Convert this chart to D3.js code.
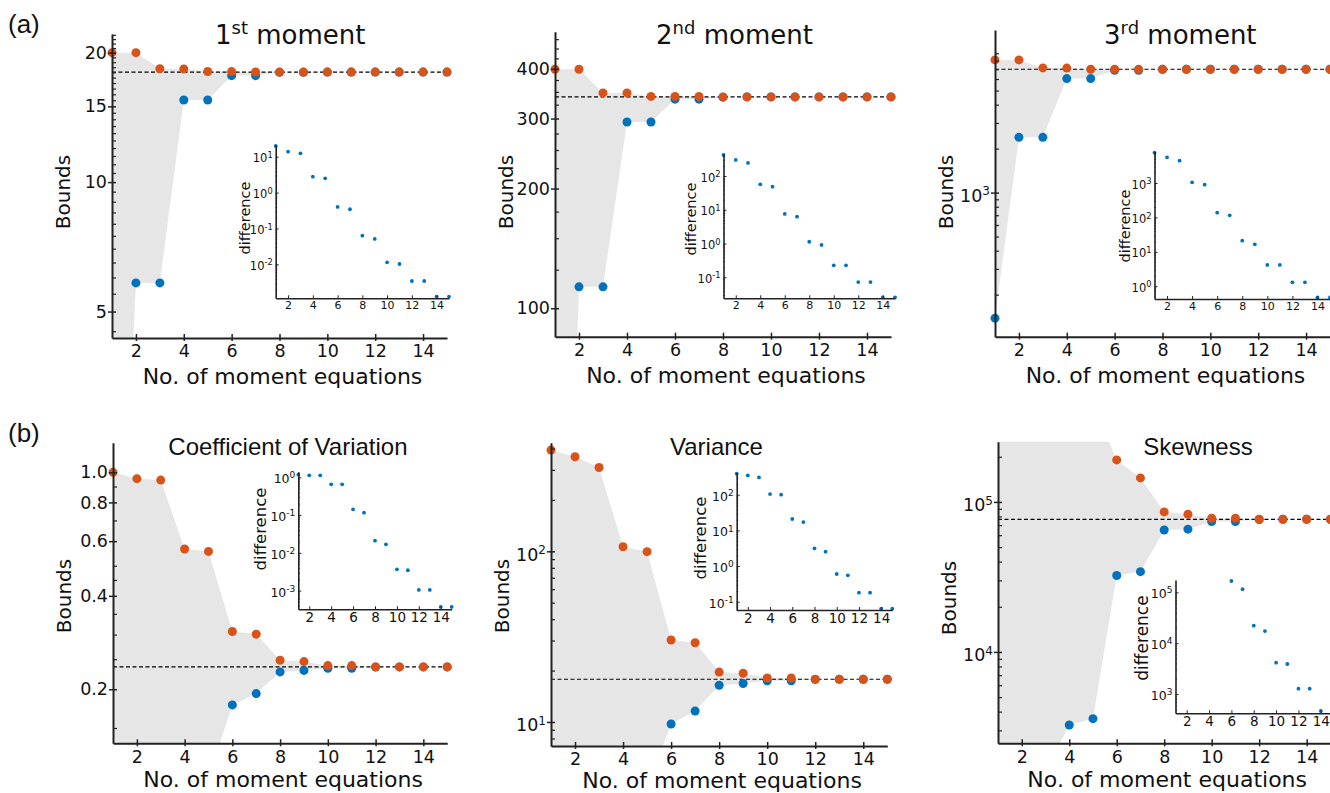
<!DOCTYPE html>
<html>
<head>
<meta charset="utf-8">
<script src="https://cdn.jsdelivr.net/npm/d3@7"></script>
<style>
  body { margin: 0; background: #fff; }
  svg { display: block; }
</style>
</head>
<body>
<svg id="fig" width="1330" height="793"></svg>
<script>
// x axis: number of moment equations
const steps = d3.range(1, 16)

// (a) 1st moment
const m1Upper = [20.0, 20.0, 18.35, 18.33, 18.08, 18.07, 18.03, 18.02, 18.02, 18.02, 18.02, 18.02, 18.02, 18.02, 18.02]
const m1Lower = [0.39, 5.83, 5.83, 15.52, 15.52, 17.68, 17.68, 18.0, 18.01, 18.02, 18.02, 18.02, 18.02, 18.02, 18.02]
const m1True = 18.02
const m1Diff = [19.9, 13.8, 12.4, 2.77, 2.5, 0.398, 0.343, 0.063, 0.051, 0.0114, 0.0102, 0.00343, 0.00343, 0.00126, 0.00126]

// (a) 2nd moment
const m2Upper = [399, 399, 348, 348, 341, 341, 341, 340, 340, 340, 340, 340, 340, 340, 340]
const m2Lower = [1.8, 113.2, 113.2, 294, 294, 335.6, 335.6, 339.5, 340, 340, 340, 340, 340, 340, 340]
const m2True = 340
const m2Diff = [419, 298, 243, 56.6, 48.3, 7.5, 6.25, 1.13, 0.906, 0.226, 0.226, 0.072, 0.072, 0.0255, 0.0255]

// (a) 3rd moment
const m3Upper = [8110, 8110, 7150, 7130, 7000, 7000, 7000, 7000, 7000, 7000, 7000, 7000, 7000, 7000, 7000]
const m3Lower = [138, 2390, 2390, 6040, 6040, 6890, 6890, 6990, 7000, 7000, 7000, 7000, 7000, 7000, 7000]
const m3True = 7000
const m3Diff = [7590, 5560, 4450, 1047, 895, 137, 115, 21.1, 16.5, 4.16, 4.16, 1.3, 1.3, 0.47, 0.47]

// (b) coefficient of variation
const cvUpper = [1.0, 0.954, 0.944, 0.566, 0.556, 0.307, 0.301, 0.248, 0.2455, 0.2384, 0.2384, 0.236, 0.236, 0.236, 0.236]
const cvLower = [0.01, 0.01, 0.01, 0.01, 0.104, 0.178, 0.1936, 0.2274, 0.230, 0.2337, 0.2337, 0.2358, 0.236, 0.236, 0.236]
const cvTrue = 0.236
const cvDiff = [1.17, 1.13, 1.13, 0.65, 0.65, 0.142, 0.116, 0.021, 0.0168, 0.00366, 0.00346, 0.00104, 0.00104, 0.00037, 0.00037]

// (b) variance
const varUpper = [392, 358, 310, 106.4, 99.5, 30.2, 29.1, 19.6, 19.3, 18.1, 18.1, 17.8, 17.8, 17.8, 17.8]
const varLower = [1, 1, 1, 1, 4.16, 9.73, 11.6, 16.4, 16.8, 17.45, 17.45, 17.75, 17.8, 17.8, 17.8]
const varTrue = 17.8
const varDiff = [388, 348, 306, 104, 100, 20.8, 17.1, 3.13, 2.52, 0.597, 0.547, 0.179, 0.179, 0.0637, 0.0637]

// (b) skewness
const skUpper = [2e6, 1.5e6, 1e6, 7e5, 4.5e5, 1.905e5, 1.445e5, 8.58e4, 8.28e4, 7.78e4, 7.78e4, 7.66e4, 7.66e4, 7.66e4, 7.66e4]
const skLower = [100, 300, 1600, 3260, 3590, 3.23e4, 3.43e4, 6.5e4, 6.58e4, 7.4e4, 7.4e4, 7.64e4, 7.66e4, 7.66e4, 7.66e4]
const skTrue = 7.66e4
const skDiff = [null, null, null, null, null, 1.67e5, 1.15e5, 2.21e4, 1.73e4, 4130, 3890, 1270, 1270, 463, 463]

const xTickValues = [2, 4, 6, 8, 10, 12, 14]

const upperColor = '#D95319'
const lowerColor = '#0072BD'
const bandColor = '#e6e6e6'
const axisColor = '#222'
const tickFont = 'DejaVu Sans'

const svg = d3.select('#fig')

//helper: minor ticks of a log axis
function logMinors(dom) {
  const out = []
  const k0 = Math.floor(Math.log10(dom[0])), k1 = Math.ceil(Math.log10(dom[1]))
  for (let k = k0; k <= k1; k++) {
    for (let m = 2; m <= 9; m++) {
      const v = m * Math.pow(10, k)
      if (v >= dom[0] && v <= dom[1]) out.push(v)
    }
  }
  return out
}

//helper: write "10^k" into an axis label
function powLabel(sel, supSize) {
  sel.each(function (d) {
    const t = d3.select(this)
    const k = Math.round(Math.log10(d))
    t.text('')
    t.append('tspan').text('10')
    t.append('tspan').attr('dy', '-0.55em').attr('font-size', supSize).text(k < 0 ? '-' + (-k) : k)
  })
}

function drawPanel(p) {
  const x = d3.scaleLinear().domain([1, 15]).range([p.left, p.right])
  const y = d3.scaleLog().domain(p.yDomain).range([p.bottom, p.top])

  const clipId = 'clip_' + p.name
  svg.append('clipPath').attr('id', clipId).append('rect')
    .attr('x', p.left).attr('y', p.top)
    .attr('width', p.right - p.left).attr('height', p.bottom - p.top)

  const g = svg.append('g')
  const band = steps.map((s, i) => ({s: s, lo: p.lower[i], hi: p.upper[i]}))

  //shaded region between the bounds
  g.append('path')
    .datum(band)
    .attr('clip-path', `url(#${clipId})`)
    .attr('fill', bandColor)
    .attr('d', d3.area().x(d => x(d.s)).y0(d => y(d.lo)).y1(d => y(d.hi)))

  //true value
  g.append('line')
    .attr('x1', p.left).attr('x2', p.right)
    .attr('y1', y(p.trueVal)).attr('y2', y(p.trueVal))
    .attr('stroke', '#000').attr('stroke-width', 1.2)
    .attr('stroke-dasharray', '4,2.5')

  const inside = v => v >= p.yDomain[0] && v <= p.yDomain[1]

  g.append('g').selectAll('circle')
    .data(band.filter(d => inside(d.lo)))
    .join('circle')
    .attr('cx', d => x(d.s)).attr('cy', d => y(d.lo)).attr('r', 4.5)
    .attr('fill', lowerColor)

  g.append('g').selectAll('circle')
    .data(band.filter(d => inside(d.hi)))
    .join('circle')
    .attr('cx', d => x(d.s)).attr('cy', d => y(d.hi)).attr('r', 4.5)
    .attr('fill', upperColor)

  //x axis
  const xa = g.append('g')
    .attr('transform', `translate(0,${p.bottom})`)
    .call(d3.axisBottom(x).tickValues(xTickValues).tickFormat(d3.format('d'))
      .tickSizeInner(-4).tickSizeOuter(0).tickPadding(7))
  xa.select('.domain').attr('stroke', axisColor).attr('stroke-width', 2)
  xa.selectAll('.tick line').attr('y1', 3).attr('stroke', axisColor).attr('stroke-width', 1.5)
  xa.selectAll('.tick text').attr('font-family', tickFont).attr('font-size', 17.5).attr('fill', '#111')

  //y minor ticks
  const ym = g.append('g')
    .attr('transform', `translate(${p.left},0)`)
    .call(d3.axisLeft(y).tickValues(p.minors).tickFormat('').tickSizeInner(-4).tickSizeOuter(0))
  ym.select('.domain').remove()
  ym.selectAll('.tick line').attr('stroke', axisColor).attr('stroke-width', 1.2)

  //y axis
  const ya = g.append('g')
    .attr('transform', `translate(${p.left},0)`)
    .call(d3.axisLeft(y).tickValues(p.majors).tickSizeInner(-4).tickSizeOuter(0).tickPadding(5)
      .tickFormat(p.fmt || (d => d)))
  ya.select('.domain').attr('stroke', axisColor).attr('stroke-width', 2)
  ya.selectAll('.tick line').attr('x1', -4).attr('stroke', axisColor).attr('stroke-width', 1.5)
  const yt = ya.selectAll('.tick text').attr('font-family', tickFont).attr('font-size', 17.5).attr('fill', '#111')
  if (p.pow) { powLabel(yt, 12); yt.attr('dy', '0.5em') }

  //labels
  svg.append('text')
    .attr('x', (p.left + p.right) / 2 + 3).attr('y', p.bottom + p.xLabelGap)
    .attr('text-anchor', 'middle')
    .attr('font-family', tickFont).attr('font-size', 22).attr('fill', '#111')
    .text('No. of moment equations')

  svg.append('text')
    .attr('transform', `translate(${p.left - 49},${p.labelY}) rotate(-90)`)
    .attr('text-anchor', 'middle').attr('dominant-baseline', 'central')
    .attr('font-family', tickFont).attr('font-size', 20).attr('fill', '#111')
    .text('Bounds')
}

function drawInset(p) {
  const x = d3.scaleLinear().domain([1, 15]).range([p.left, p.right])
  const y = d3.scaleLog().domain(p.yDomain).range([p.bottom, p.top])
  const g = svg.append('g')

  const pts = steps.map((s, i) => ({s: s, v: p.diff[i]})).filter(d => d.v !== null)
  g.append('g').selectAll('circle')
    .data(pts)
    .join('circle')
    .attr('cx', d => x(d.s)).attr('cy', d => y(d.v)).attr('r', 1.9)
    .attr('fill', lowerColor)

  const xa = g.append('g')
    .attr('transform', `translate(0,${p.bottom})`)
    .call(d3.axisBottom(x).tickValues(xTickValues).tickFormat(d3.format('d'))
      .tickSizeInner(-3).tickSizeOuter(0).tickPadding(3))
  xa.select('.domain').attr('stroke', axisColor).attr('stroke-width', 1.6)
  xa.selectAll('.tick line').attr('stroke', axisColor)
  xa.selectAll('.tick text').attr('font-family', tickFont).attr('font-size', p.xFont).attr('fill', '#111')

  const ym = g.append('g')
    .attr('transform', `translate(${p.left},0)`)
    .call(d3.axisLeft(y).tickValues(logMinors(p.yDomain)).tickFormat('').tickSizeInner(-1.5).tickSizeOuter(0))
  ym.select('.domain').remove()
  ym.selectAll('.tick line').attr('stroke', axisColor)

  const decades = d3.range(Math.ceil(Math.log10(p.yDomain[0])), Math.floor(Math.log10(p.yDomain[1])) + 1)
    .map(k => Math.pow(10, k))
  const ya = g.append('g')
    .attr('transform', `translate(${p.left},0)`)
    .call(d3.axisLeft(y).tickValues(decades).tickSizeInner(-3).tickSizeOuter(0).tickPadding(3))
  ya.select('.domain').attr('stroke', axisColor).attr('stroke-width', 1.6)
  ya.selectAll('.tick line').attr('stroke', axisColor)
  const yt = ya.selectAll('.tick text').attr('font-family', tickFont).attr('font-size', p.yFont).attr('fill', '#111')
  powLabel(yt, p.yFont * 0.72)
  yt.attr('dy', '0.45em')

  svg.append('text')
    .attr('transform', `translate(${p.left - p.labelGap},${p.labelY}) rotate(-90)`)
    .attr('text-anchor', 'middle').attr('dominant-baseline', 'central')
    .attr('font-family', tickFont).attr('font-size', p.labelFont).attr('fill', '#111')
    .text('difference')
}

function title(xPos, yPos, parts, font, size) {
  const t = svg.append('text').attr('x', xPos).attr('y', yPos)
    .attr('font-family', font).attr('font-size', size).attr('fill', '#111')
  t.append('tspan').text(parts[0])
  if (parts.length > 1) {
    t.append('tspan').attr('dy', -10).attr('font-size', 18).text(parts[1])
    t.append('tspan').attr('dy', 10).text(parts[2])
  }
}

// ---- row (a)
drawPanel({name: 'm1', left: 112, right: 447, top: 34, bottom: 338, yDomain: [4.34, 22.1],
  upper: m1Upper, lower: m1Lower, trueVal: m1True, labelY: 192, xLabelGap: 46,
  majors: [5, 10, 15, 20], minors: d3.range(4.5, 22.1, 0.5).filter(v => v % 5 !== 0)})
drawPanel({name: 'm2', left: 555, right: 891, top: 31.7, bottom: 336.7, yDomain: [84.8, 496],
  upper: m2Upper, lower: m2Lower, trueVal: m2True, labelY: 192, xLabelGap: 46,
  majors: [100, 200, 300, 400], minors: d3.range(100, 500, 25).filter(v => v % 100 !== 0)})
drawPanel({name: 'm3', left: 995, right: 1330, top: 30, bottom: 336.7, yDomain: [103, 13000],
  upper: m3Upper, lower: m3Lower, trueVal: m3True, labelY: 192, xLabelGap: 46,
  majors: [1000], minors: logMinors([103, 13000]), pow: true})

drawInset({left: 275.7, right: 449, top: 145, bottom: 298.3, yDomain: [Math.pow(10, -2.947), Math.pow(10, 1.326)],
  diff: m1Diff, xFont: 11, yFont: 11.5, labelFont: 14.5, labelGap: 31, labelY: 218})
drawInset({left: 723.5, right: 895, top: 154, bottom: 298.3, yDomain: [Math.pow(10, -1.622), Math.pow(10, 2.651)],
  diff: m2Diff, xFont: 11, yFont: 11.5, labelFont: 14.5, labelGap: 33, labelY: 219})
drawInset({left: 1154.5, right: 1330, top: 151.7, bottom: 299, yDomain: [Math.pow(10, -0.372), Math.pow(10, 3.91)],
  diff: m3Diff, xFont: 11, yFont: 11.5, labelFont: 14.5, labelGap: 30, labelY: 226})

// ---- row (b)
drawPanel({name: 'cv', left: 113, right: 447.2, top: 442.7, bottom: 743.3, yDomain: [0.1339, 1.246],
  upper: cvUpper, lower: cvLower, trueVal: cvTrue, labelY: 596, xLabelGap: 44,
  majors: [0.2, 0.4, 0.6, 0.8, 1.0], minors: [0.15, 0.25, 0.3, 0.35, 0.45, 0.5, 0.7, 0.9],
  fmt: d3.format('.1f')})
drawPanel({name: 'var', left: 551, right: 887.3, top: 442.7, bottom: 746, yDomain: [7.23, 433],
  upper: varUpper, lower: varLower, trueVal: varTrue, labelY: 596, xLabelGap: 42,
  majors: [10, 100], minors: logMinors([7.23, 433]), pow: true})
drawPanel({name: 'sk', left: 998, right: 1330.4, top: 441.7, bottom: 743.3, yDomain: [2460, 2.52e5],
  upper: skUpper, lower: skLower, trueVal: skTrue, labelY: 598, xLabelGap: 44,
  majors: [1e4, 1e5], minors: logMinors([2460, 2.52e5]), pow: true})

drawInset({left: 298.3, right: 451.7, top: 471.7, bottom: 609.3, yDomain: [Math.pow(10, -3.495), Math.pow(10, 0.148)],
  diff: cvDiff, xFont: 13.5, yFont: 12.5, labelFont: 16.5, labelGap: 38, labelY: 529})
drawInset({left: 736.7, right: 892.3, top: 472.7, bottom: 610, yDomain: [Math.pow(10, -1.233), Math.pow(10, 2.617)],
  diff: varDiff, xFont: 13.5, yFont: 12.5, labelFont: 16.5, labelGap: 36, labelY: 538})
drawInset({left: 1175.5, right: 1332, top: 580, bottom: 713.3, yDomain: [Math.pow(10, 2.62), Math.pow(10, 5.242)],
  diff: skDiff, xFont: 13.5, yFont: 12.5, labelFont: 17, labelGap: 34, labelY: 638})

// ---- titles
title(215, 44.3, ['1', 'st', ' moment'], tickFont, 26)
title(656, 44.3, ['2', 'nd', ' moment'], tickFont, 26)
title(1104, 44.3, ['3', 'rd', ' moment'], tickFont, 26)
title(168.3, 455, ['Coefficient of Variation'], 'Liberation Sans', 24)
title(670, 455, ['Variance'], 'Liberation Sans', 24)
title(1143.3, 455, ['Skewness'], 'Liberation Sans', 24)

svg.append('text').attr('x', 8).attr('y', 33)
  .attr('font-family', 'Liberation Sans').attr('font-size', 26).attr('fill', '#111').text('(a)')
svg.append('text').attr('x', 8).attr('y', 442)
  .attr('font-family', 'Liberation Sans').attr('font-size', 26).attr('fill', '#111').text('(b)')
</script>
</body>
</html>
